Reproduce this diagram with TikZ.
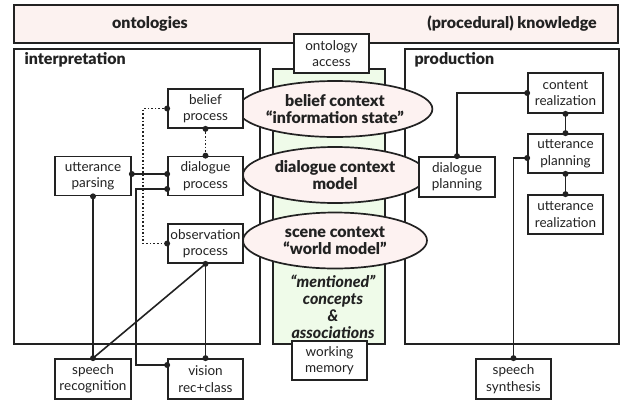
\documentclass[tikz,border=0pt]{standalone}
\usepackage{fontspec}
\setmainfont{Lato}[BoldFont={Lato Black}, BoldItalicFont={Lato Black Italic}]
\usetikzlibrary{shapes.geometric}
\definecolor{pinkfill}{HTML}{FCF2F0}
\definecolor{greenfill}{HTML}{EFFBE9}
\definecolor{ellfill}{HTML}{FDF2F1}
\definecolor{ink}{HTML}{222222}
\tikzset{
  frame/.style={draw=ink, line width=1.8pt},
  proc/.style={draw=ink, line width=1.7pt, fill=white, minimum width=75pt, minimum height=39pt, inner sep=1pt, align=center, font=\fontsize{13.5}{16.5}\selectfont, text=ink},
  ctx/.style={ellipse, draw=ink, line width=1.7pt, fill=ellfill, minimum width=184pt, minimum height=56pt, inner sep=0pt, align=center, font=\bfseries\fontsize{16}{17}\selectfont, text=ink},
  conn/.style={draw=ink, line width=1.6pt},
  dconn/.style={draw=ink, line width=1.6pt, dotted},
  title/.style={font=\bfseries\fontsize{16}{16}\selectfont, text=ink, anchor=base west},
  dot/.style={circle, fill=ink, inner sep=0pt, minimum size=6pt}
}
\begin{document}
\begin{tikzpicture}[x=1pt, y=-1pt]
\useasboundingbox (0,0) rectangle (627,400);
% frames
\draw[frame, fill=pinkfill] (14,5) rectangle (618,43);
\node[font=\bfseries\fontsize{16}{16}\selectfont, text=ink] (onto) at (150,24) {ontologies};
\node[font=\bfseries\fontsize{16}{16}\selectfont, text=ink] (know) at (512,24) {(procedural) knowledge};
\draw[frame] (14,49) rectangle (260,344);
\node[title] (interp) at (21,64) {interpretation};
\draw[frame] (405,49) rectangle (619,344);
\node[title] (prod) at (411,64) {production};
\draw[frame, fill=greenfill] (273,69) rectangle (385,344);
\node[proc] (oacc) at (331.5,53.5) {ontology\\access};
\node[proc] (wmem) at (329.5,360.5) {working\\memory};
% ellipses
\node[ctx] (bctx) at (335,109) {belief context\\“information state”};
\node[ctx] (dctx) at (335,175) {dialogue context\\model};
\node[ctx] (sctx) at (335,240.5) {scene context\\“world model”};
\node[align=center, font=\bfseries\itshape\fontsize{16}{17}\selectfont, text=ink] (ment) at (333,307) {“mentioned”\\concepts\\\&\\associations};
% interpretation
\node[proc] (bproc) at (205.5,108.5) {belief\\process};
\node[proc] (dproc) at (205.5,176) {dialogue\\process};
\node[proc, minimum width=76pt] (parse) at (93,176) {utterance\\parsing};
\node[proc] (oproc) at (205.5,243.5) {observation\\process};
\node[proc, minimum width=76pt, minimum height=40pt] (srec) at (93,379) {speech\\recognition};
\node[proc, minimum height=40pt] (vis) at (205.5,379) {vision\\rec+class};
% production
\node[proc, minimum height=40pt] (creal) at (565.5,93) {content\\realization};
\node[proc] (uplan) at (565.5,153.5) {utterance\\planning};
\node[proc, minimum width=76pt, minimum height=40pt] (dplan) at (457,177) {dialogue\\planning};
\node[proc] (ureal) at (565.5,214.5) {utterance\\realization};
\node[proc, minimum height=40pt] (synth) at (513.5,379) {speech\\synthesis};
% connectors interpretation
\draw[dconn] (bproc.west) -- ++(-24,0) coordinate (bl) |- (oproc.west);
\node[dot] at (bproc.west) {}; \node[dot] at (oproc.west) {};
\draw[dconn] (bproc.south) -- (dproc.north);
\node[dot] at (bproc.south) {}; \node[dot] at (dproc.north) {};
\draw[conn] ([yshift=2pt]parse.east) -- ([yshift=2pt]dproc.west);
\node[dot] at ([yshift=2pt]parse.east) {}; \node[dot] at ([yshift=2pt]dproc.west) {};
\draw[conn] ([yshift=-13pt]dproc.west) -- ++(-31,0) coordinate (dl) |- ([yshift=14pt]vis.west);
\node[dot] at ([yshift=-13pt]dproc.west) {}; \node[dot] at ([yshift=14pt]vis.west) {};
\draw[conn] (parse.south) -- (srec.north);
\node[dot] at (parse.south) {};
\draw[conn] (oproc.south) -- (srec.north);
\draw[conn] (oproc.south) -- (vis.north);
\node[dot] at (oproc.south) {}; \node[dot] at (srec.north) {}; \node[dot] at (vis.north) {};
% connectors production
\draw[conn] (creal.west) -| (dplan.north);
\node[dot] at (creal.west) {}; \node[dot] at (dplan.north) {};
\draw[conn] (creal.south) -- (uplan.north);
\node[dot] at (creal.south) {}; \node[dot] at (uplan.north) {};
\draw[conn] (uplan.south) -- (ureal.north);
\node[dot] at (uplan.south) {}; \node[dot] at (ureal.north) {};
\draw[conn] ([yshift=-4.5pt]uplan.west) -| (synth.north);
\node[dot] at ([yshift=-4.5pt]uplan.west) {}; \node[dot] at (synth.north) {};
\end{tikzpicture}
\end{document}
